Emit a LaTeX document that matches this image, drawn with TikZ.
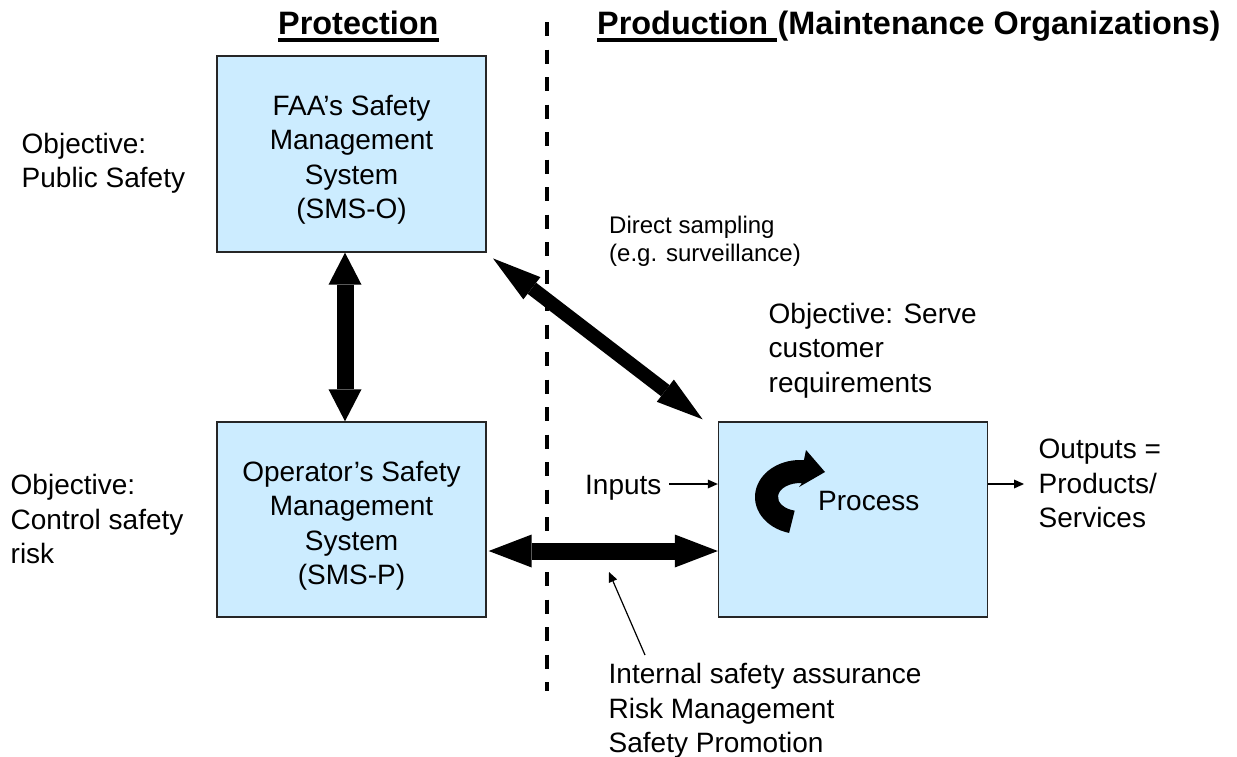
\documentclass[tikz,border=0pt]{standalone}
\usepackage{fontspec}
\setmainfont{Liberation Sans}
\usetikzlibrary{arrows.meta}
\definecolor{boxblue}{HTML}{CCECFF}
\begin{document}
\begin{tikzpicture}[x=1pt,y=1pt,
  box/.style={draw=black!85,line width=1.4pt,fill=boxblue,minimum width=269pt,minimum height=195pt,inner sep=0pt},
  txt/.style={font=\fontsize{28}{34.5}\selectfont,inner sep=0pt},
  small/.style={font=\fontsize{24}{28}\selectfont,inner sep=0pt},
  title/.style={font=\fontsize{32.4}{38}\selectfont\bfseries,inner sep=0pt},
  ul/.style={line width=3.2pt},
  dashline/.style={line width=4pt,dash pattern=on 14pt off 13.5pt},
  bigarrow/.style={line width=17pt,{Triangle[length=32pt,width=33pt,line width=0pt]}-{Triangle[length=32pt,width=33pt,line width=0pt]}},
  bighoriz/.style={line width=17pt,{Triangle[length=43pt,width=33pt,line width=0pt]}-{Triangle[length=43pt,width=33pt,line width=0pt]}},
  bigdiag/.style={line width=14pt,{Triangle[length=49pt,width=28pt,line width=0pt]}-{Triangle[length=47pt,width=28pt,line width=0pt]}},
  thinarrow/.style={line width=1.2pt,-{Triangle[length=10pt,width=9pt,line width=0pt]}},
]
\useasboundingbox (0,0) rectangle (1237,-756);

% dashed divider
\coordinate (dashTop) at (547,-22);
\coordinate (dashBot) at (547,-691);
\draw[dashline] (dashTop) -- (dashBot);

% titles
\node[title,anchor=base west] (protT) at (278,-34) {Protection};
\draw[ul] ([yshift=-6pt]protT.base west) -- ([yshift=-6pt]protT.base east);
\node[title,anchor=base west] (prodT) at (597,-34) {Production\kern0.278em};
\node[title,anchor=base west] (maintT) at (prodT.base east) {(Maintenance Organizations)};
\draw[ul] ([yshift=-6pt]prodT.base west) -- ([yshift=-6pt]prodT.base east);

% boxes
\node[box,minimum height=196pt] (faa) at (351.5,-154) {};
\node[box] (op) at (351.5,-519.5) {};
\node[box] (proc) at (853,-519.5) {};

\node[txt,align=center,anchor=north] (faaT) at (351.5,-94.6) {FAA’s Safety\\Management\\System\\(SMS-O)};
\node[txt,align=center,anchor=north] (opT) at (351.5,-461) {Operator’s Safety\\Management\\System\\(SMS-P)};
\node[txt,anchor=base west] (procT) at (818,-510.7) {Process};

% process icon
\fill (789.1,-532.9) arc[start angle=256,end angle=85,x radius=45,y radius=37]
  -- (806,-450) -- (825,-472) -- (799,-487) -- (801.9,-483.1)
  arc[start angle=85,end angle=256,x radius=22,y radius=14] -- cycle;

% objective texts
\node[txt,align=left,anchor=north west] (obj1) at (21.5,-132.8) {Objective:\\Public Safety};
\node[txt,align=left,anchor=north west] (obj2) at (10.5,-474.5) {Objective:\\Control safety\\risk};
\node[txt,align=left,anchor=north west] (objS) at (768.5,-302.8) {Objective: Serve\\customer\\requirements};
\node[small,align=left,anchor=north west] (direct) at (609,-215.7) {Direct sampling\\(e.g. surveillance)};
\node[txt,anchor=base west] (inputs) at (585,-494) {Inputs};
\node[txt,align=left,anchor=north west] (outputs) at (1038.5,-438.8) {Outputs =\\Products/\\Services};
\node[txt,align=left,anchor=north west] (internal) at (608.5,-663) {Internal safety assurance\\Risk Management\\Safety Promotion};

% thick arrows
\draw[bigarrow] ([xshift=-6.5pt]faa.south) -- ([xshift=-6.5pt]op.north);
\draw[bighoriz,shorten <=2pt] ([yshift=-31.5pt]op.east) -- ([yshift=-31.5pt]proc.west);
\draw[bigdiag] ([shift={(6.3,-5.7)}]faa.south east) -- ([shift={(-15.2,2)}]proc.north west);

% thin arrows
\coordinate (inStart) at (669,-484);
\draw[thinarrow] (inStart) -- (inStart -| proc.west);
\coordinate (outEnd) at (1024,-484);
\draw[thinarrow] (outEnd -| proc.east) -- (outEnd);
\coordinate (ptrFoot) at (645,-655);
\coordinate (ptrTip) at (609,-572);
\draw[thinarrow] (ptrFoot) -- (ptrTip);
\end{tikzpicture}
\end{document}
